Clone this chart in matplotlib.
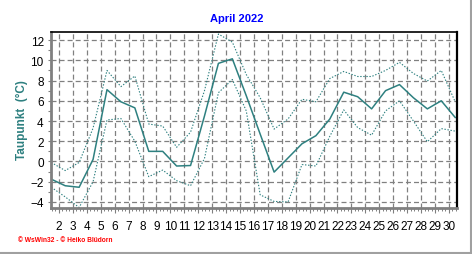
import matplotlib
matplotlib.use("Agg")
import matplotlib.pyplot as plt
from matplotlib.lines import Line2D
from matplotlib.ticker import MultipleLocator, FixedLocator

# Data: dew point (Taupunkt) April 2022, daily mean / max / min
days = list(range(1, 31))
dew_mean = [-1.75, -2.4, -2.55, 0.2, 7.1, 5.9, 5.3, 1.0, 1.0, -0.45,
            -0.4, 4.5, 9.7, 10.15, 6.5, 2.7, -1.05, 0.35, 1.75, 2.55,
            4.2, 6.85, 6.4, 5.2, 7.0, 7.6, 6.3, 5.2, 6.0, 4.35]
dew_max = [-0.1, -0.9, -0.1, 3.3, 9.0, 7.4, 8.45, 3.7, 3.5, 1.4,
           2.9, 7.0, 12.6, 11.8, 8.6, 6.3, 3.2, 4.2, 6.15, 5.9,
           8.2, 8.9, 8.4, 8.4, 9.0, 9.8, 8.7, 7.95, 9.0, 5.9]
dew_min = [-2.55, -3.5, -4.55, -2.0, 4.1, 4.25, 2.0, -1.5, -0.85, -1.9,
           -2.4, 0.3, 6.8, 8.1, 5.0, -3.3, -3.95, -4.0, -0.3, -0.45,
           2.5, 5.1, 3.35, 2.6, 5.0, 6.0, 4.0, 1.95, 3.25, 3.0]
xtick_labels = [str(d) for d in range(2, 31)]
ytick_values = list(range(-4, 13, 2))

title = "April 2022"
ylabel = "Taupunkt  (°C)"
footer = "© WsWin32 - © Heiko Blüdorn"

teal = "#2E8080"
plt.rcParams['lines.scale_dashes'] = False

fig = plt.figure(figsize=(4.72, 2.55), dpi=100, facecolor="white")
W, H = 472, 255
ax = fig.add_axes([51 / W, (H - 209) / H, (457 - 51) / W, (209 - 33) / H])

xpos = [d + 0.45 for d in days]
ax.plot(xpos, dew_max, color=teal, lw=0.8, linestyle=(0, (1, 1.2)))
ax.plot(xpos, dew_min, color=teal, lw=0.8, linestyle=(0, (1, 1.2)))
ax.plot(xpos, dew_mean, color=teal, lw=1.1, solid_joinstyle="round")

ax.set_xlim(1.43, 30.58)
ax.set_ylim(-4.6, 12.8)

xt = list(range(2, 31))
ax.xaxis.set_major_locator(FixedLocator(xt))
ax.set_xticklabels(xtick_labels)
ax.xaxis.set_minor_locator(MultipleLocator(0.25))
ax.yaxis.set_major_locator(FixedLocator(ytick_values))
ax.yaxis.set_minor_locator(MultipleLocator(1))

ax.grid(True, which="major", color="#808080", lw=0.9, linestyle=(0, (3.6, 2.2)))
ax.set_axisbelow(True)

ax.tick_params(axis="x", which="major", direction="out", length=3.5, width=0.8,
               color="#808080", labelsize=8.5, pad=5)
ax.tick_params(axis="x", which="minor", direction="out", length=2.2, width=0.7,
               color="#808080")
ax.tick_params(axis="y", which="both", direction="out", length=2.2, width=0.8,
               color="#808080", labelsize=8.5, pad=3)
for lab in ax.get_xticklabels() + ax.get_yticklabels():
    lab.set_fontfamily("Liberation Sans")

ax.spines["left"].set_color("#808080")
ax.spines["left"].set_linewidth(2.0)
ax.spines["bottom"].set_color("#808080")
ax.spines["bottom"].set_linewidth(2.0)
ax.spines["top"].set_color("black")
ax.spines["top"].set_linewidth(1.2)
ax.spines["right"].set_color("black")
ax.spines["right"].set_linewidth(1.6)

fig.text(237 / W, 1 - 19 / H, title, color="#0000FF", fontsize=8, fontweight="bold",
         fontfamily="Liberation Sans", ha="center", va="center")
fig.text(22 / W, 1 - 120 / H, ylabel, color=teal, fontsize=8.5, fontweight="bold",
         fontfamily="Liberation Sans", rotation=90, ha="center", va="center")
fig.text(18 / W, 1 - 241 / H, footer, color="#FF0000", fontsize=4.8, fontweight="bold",
         fontfamily="Liberation Sans", ha="left", va="center")

fig.add_artist(Line2D([0, 1], [1.5 / H, 1.5 / H], transform=fig.transFigure,
                      color="#A0A0A0", lw=1.5))
fig.add_artist(Line2D([1 - 1.5 / W, 1 - 1.5 / W], [0, 1], transform=fig.transFigure,
                      color="#A0A0A0", lw=1.5))

fig.savefig("out.png", dpi=100, facecolor="white")
